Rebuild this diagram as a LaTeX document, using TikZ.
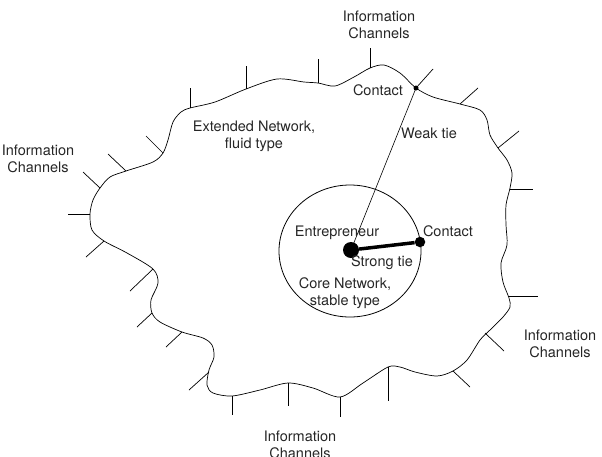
\documentclass[tikz,border=0pt]{standalone}
\usepackage{fontspec}
\setmainfont{TeX Gyre Heros}
\begin{document}
\begin{tikzpicture}[x=1pt,y=-1pt,
  lbl/.style={font=\fontsize{14.5}{17}\selectfont,align=center,inner sep=0pt,text=black!85},
  tie/.style={circle,fill,inner sep=0pt}]
  \useasboundingbox (0,0) rectangle (602,456);
  % extended network
  \draw[line width=0.7pt] plot[smooth cycle,tension=0.5] coordinates {
    (181,112) (190,108) (215,102) (246,89) (277,79) (304,82) (318,83) (335,86)
    (354,77) (370,68) (384,65) (400,73) (416,88) (433,97) (460,104) (480,110)
    (487,120) (490,135) (498,148) (507,160) (512,173) (510,188) (506,205)
    (506,225) (507,245) (501,263) (503,282) (509,298) (510,307) (503,317)
    (490,330) (480,340) (467,360) (453,371) (437,376) (415,372) (400,367)
    (388,367) (363,383) (340,397) (313,388) (288,383) (260,390) (232,396)
    (213,393) (207,385) (209,370) (214,357) (212,345) (203,338) (182,332)
    (160,322) (152,313) (151,300) (158,283) (153,269) (127,253) (104,241)
    (92,230) (90,214) (93,200) (100,188) (110,177) (126,171) (153,162)
    (163,153) (168,140) (173,122)};
  % information channels
  \foreach \xa/\ya/\xb/\yb in {190/108/190/88, 246/89/246/66, 318/83/318/59,
    370/68/370/48, 416/88/433/69, 460/104/478/88, 498/148/519/131,
    510/189/533/189, 508/296/538/296, 485/333/504/351, 453/371/470/387,
    388/367/388/401, 340/397/340/417, 288/383/288/406, 232/396/232/415,
    209/372/189/390, 182/332/166/347, 152/313/137/327, 153/269/130/291,
    104/241/86/257, 90/214/68/214, 100/188/83/172, 126/171/108/154,
    163/153/146/136}{\draw[line width=0.7pt] (\xa,\ya) -- (\xb,\yb);}
  % core network
  \draw[line width=0.8pt] (350,251) ellipse (71pt and 66pt);
  \node[tie,minimum size=16pt] (ent) at (351,250) {};
  \node[tie,minimum size=10.5pt] (cc) at (420,242) {};
  \node[tie,minimum size=5pt] (ec) at (416,88) {};
  \draw[line width=0.6pt] (ent.center) -- (ec.center);
  \draw[line width=3.5pt] (ent) -- (cc);
  % labels
  \node[lbl] (chtop) at (379,25) {Information\\Channels};
  \node[lbl] (chleft) at (38,159) {Information\\Channels};
  \node[lbl] (chright) at (560,344) {Information\\Channels};
  \node[lbl] (chbot) at (300,445) {Information\\Channels};
  \node[lbl] (ecl) at (378,90) {Contact};
  \node[lbl] (weak) at (429,133) {Weak tie};
  \node[lbl] (ext) at (254,136) {Extended Network,\\fluid type};
  \node[lbl] (entl) at (337,233) {Entrepreneur};
  \node[lbl] (ccl) at (448,231) {Contact};
  \node[lbl] (strong) at (382,263) {Strong tie};
  \node[lbl] (core) at (345,293) {Core Network,\\stable type};
\end{tikzpicture}
\end{document}
